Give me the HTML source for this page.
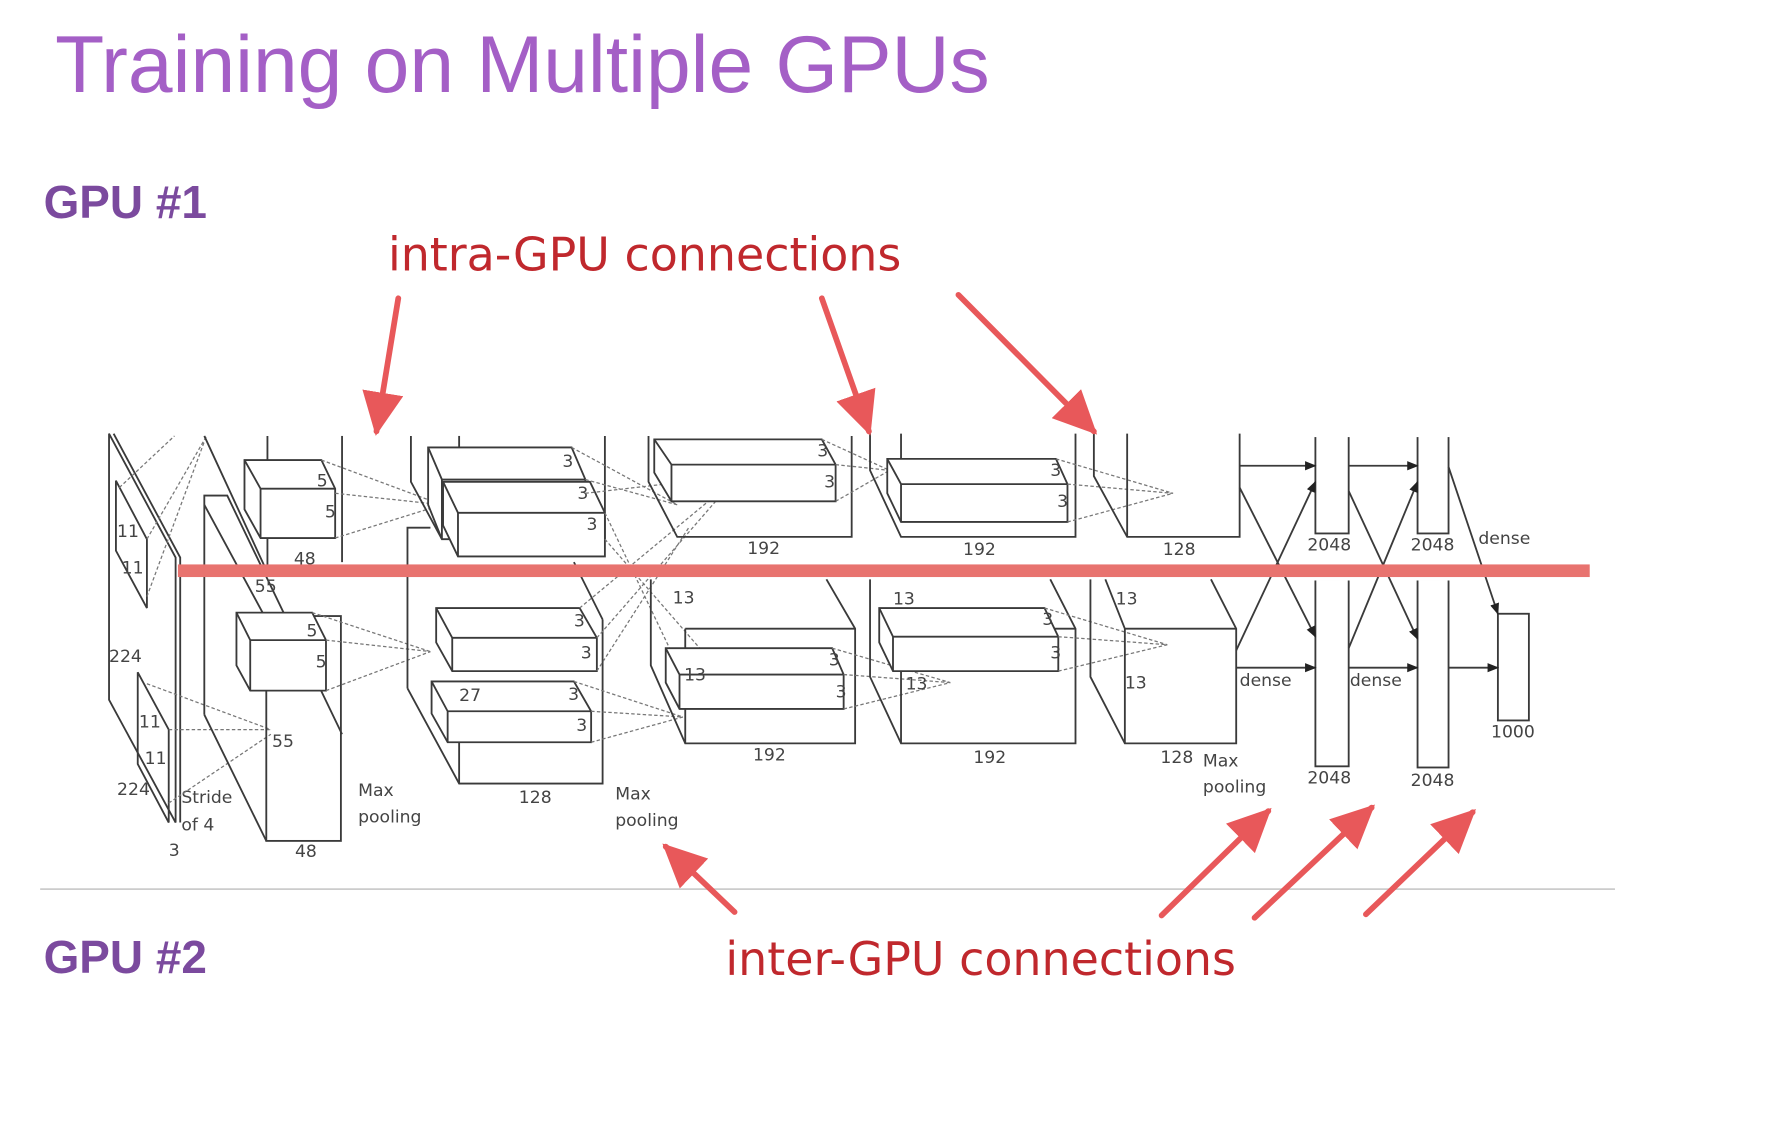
<!DOCTYPE html>
<html><head><meta charset="utf-8"><style>
html,body{margin:0;padding:0;background:#fff;width:1786px;height:1130px;overflow:hidden}
svg{display:block}
.l{stroke:#3a3a3a;stroke-width:1.6;fill:none}
.f{stroke:#3a3a3a;stroke-width:1.6;fill:#fff}
.d{stroke:#777;stroke-width:1.1;fill:none;stroke-dasharray:3 2}
.t{font-family:"DejaVu Sans","Liberation Sans",sans-serif;font-size:15px;fill:#444}
.r{stroke:#e8585a;stroke-width:5;fill:none;stroke-linecap:round}
</style></head><body>
<svg width="1786" height="1130" viewBox="0 0 1556 985" preserveAspectRatio="none" xmlns="http://www.w3.org/2000/svg">
<defs>
<marker id="ah" markerWidth="10" markerHeight="8" refX="9" refY="4" orient="auto" markerUnits="userSpaceOnUse"><path d="M0,0 L10,4 L0,8 z" fill="#222"/></marker>
<marker id="rh" markerWidth="40" markerHeight="36" refX="34" refY="18" orient="auto" markerUnits="userSpaceOnUse"><path d="M0,0 L38,18 L0,36 z" fill="#e8585a"/></marker>
</defs>
<text x="48" y="80" font-family="Liberation Sans,sans-serif" font-size="70" fill="#a45fc6">Training on Multiple GPUs</text>
<text x="38" y="190" font-family="Liberation Sans,sans-serif" font-weight="bold" font-size="40" fill="#7b4a9e">GPU #1</text>
<text x="38" y="848" font-family="Liberation Sans,sans-serif" font-weight="bold" font-size="40" fill="#7b4a9e">GPU #2</text>
<text x="338" y="236" font-family="DejaVu Sans,Liberation Sans,sans-serif" font-size="40" fill="#c0282d">intra-GPU connections</text>
<text x="632" y="850" font-family="DejaVu Sans,Liberation Sans,sans-serif" font-size="40" fill="#c0282d">inter-GPU connections</text>
<line x1="35" y1="775" x2="1407" y2="775" stroke="#ccc" stroke-width="1.5"/>

<!-- input -->
<polygon class="l" points="95,378 153,486 153,717 95,610"/>
<polyline class="l" points="99,378 157,486 157,717"/>
<polygon class="l" points="101,419 128,470 128,530 101,480"/>
<polygon class="l" points="120,586 147,636 147,717 120,666"/>
<text class="t" x="102" y="468">11</text><text class="t" x="106" y="500">11</text>
<text class="t" x="95" y="577">224</text><text class="t" x="121" y="634">11</text><text class="t" x="126" y="666">11</text>
<text class="t" x="102" y="693">224</text><text class="t" x="158" y="700">Stride</text><text class="t" x="158" y="724">of 4</text><text class="t" x="147" y="746">3</text>
<path class="d" d="M104,425 L152,380 M128,470 L180,380 M128,520 L178,385 M128,596 L236,636 M147,636 L236,636 M147,700 L236,640"/>

<!-- conv1 -->
<line class="l" x1="233" y1="380" x2="233" y2="500"/><line class="l" x1="298" y1="380" x2="298" y2="490"/>
<polyline class="l" points="178,380 232,497"/>
<polygon class="f" points="213,401 280,401 292,426 292,469 227,469 213,444"/>
<path class="l" d="M213,401 L227,426 L292,426 M227,426 L227,469"/>
<text class="t" x="276" y="424">5</text><text class="t" x="283" y="451">5</text><text class="t" x="256" y="492">48</text>
<polyline class="l" points="178,623 178,432 198,432 298,640"/>
<path class="l" d="M178,440 L232,540 M178,623 L232,733"/>
<rect class="l" x="232" y="537" width="65" height="196"/>
<polygon class="f" points="206,534 272,534 284,558 284,602 218,602 206,580"/>
<path class="l" d="M206,534 L218,558 L284,558 M218,558 L218,602"/>
<text class="t" x="267" y="555">5</text><text class="t" x="275" y="582">5</text>
<text class="t" x="222" y="516">55</text><text class="t" x="237" y="651">55</text><text class="t" x="257" y="747">48</text>
<text class="t" x="312" y="694" font-size="16">Max</text><text class="t" x="312" y="717" font-size="16">pooling</text>
<path class="d" d="M280,401 L385,440 M292,430 L385,440 M292,469 L385,440 M272,534 L375,568 M284,558 L375,568 M284,602 L375,568"/>

<!-- conv2 -->
<polyline class="l" points="358,380 358,420 385,470"/>
<line class="l" x1="400" y1="380" x2="400" y2="420"/>
<line class="l" x1="527" y1="380" x2="527" y2="470"/>
<polygon class="f" points="373,390 498,390 510,418 510,470 385,470 373,440"/>
<path class="l" d="M373,390 L385,418 L510,418 M385,418 L385,470"/>
<polygon class="f" points="386,420 514,420 527,447 527,485 399,485 386,458"/>
<path class="l" d="M386,420 L399,447 L527,447 M399,447 L399,485"/>
<text class="t" x="490" y="407">3</text><text class="t" x="503" y="435">3</text><text class="t" x="511" y="462">3</text>
<polyline class="l" points="355,600 355,460 375,460"/>
<path class="l" d="M355,600 L400,683 L525,683 L525,540 M500,490 L525,540"/>
<line class="l" x1="400" y1="600" x2="400" y2="683"/>
<polygon class="f" points="380,530 505,530 520,556 520,585 394,585 380,560"/>
<path class="l" d="M380,530 L394,556 L520,556 M394,556 L394,585"/>
<polygon class="f" points="376,594 500,594 515,620 515,647 390,647 376,622"/>
<path class="l" d="M376,594 L390,620 L515,620 M390,620 L390,647"/>
<text class="t" x="500" y="546">3</text><text class="t" x="506" y="574">3</text><text class="t" x="400" y="611">27</text>
<text class="t" x="495" y="610">3</text><text class="t" x="502" y="637">3</text><text class="t" x="452" y="700">128</text>
<text class="t" x="536" y="697" font-size="16">Max</text><text class="t" x="536" y="720" font-size="16">pooling</text>
<path class="d" d="M498,390 L590,440 M510,418 L590,440 M510,430 L640,415 M527,447 L600,600 M527,470 L640,600 M505,530 L640,418 M520,556 L640,418 M500,594 L595,625 M515,620 L595,625 M515,647 L595,625 M520,585 L600,460"/>

<!-- conv3 -->
<polyline class="l" points="565,380 565,420 590,468 742,468 742,380"/>
<polygon class="f" points="570,383 716,383 728,405 728,437 585,437 570,412"/>
<path class="l" d="M570,383 L585,405 L728,405 M585,405 L585,437"/>
<text class="t" x="712" y="398">3</text><text class="t" x="718" y="425">3</text><text class="t" x="651" y="483">192</text>
<polyline class="l" points="567,505 567,580 597,648 745,648 745,548 720,505"/>
<line class="l" x1="597" y1="548" x2="745" y2="548"/><line class="l" x1="597" y1="548" x2="597" y2="648"/>
<polygon class="f" points="580,565 725,565 735,588 735,618 592,618 580,595"/>
<path class="l" d="M580,565 L592,588 L735,588 M592,588 L592,618"/>
<text class="t" x="586" y="526">13</text><text class="t" x="596" y="593">13</text>
<text class="t" x="722" y="580">3</text><text class="t" x="728" y="608">3</text><text class="t" x="656" y="663">192</text>
<path class="d" d="M716,383 L775,410 M728,405 L775,410 M728,437 L775,410 M725,565 L828,595 M735,588 L828,595 M735,618 L828,595"/>

<!-- conv4 -->
<polyline class="l" points="758,378 758,410 785,468 937,468 937,378"/>
<line class="l" x1="785" y1="378" x2="785" y2="400"/>
<polygon class="f" points="773,400 920,400 930,422 930,455 785,455 773,430"/>
<path class="l" d="M773,400 L785,422 L930,422 M785,422 L785,455"/>
<text class="t" x="915" y="415">3</text><text class="t" x="921" y="442">3</text><text class="t" x="839" y="484">192</text>
<polyline class="l" points="758,505 758,590 785,648 937,648 937,548 915,505"/>
<line class="l" x1="785" y1="548" x2="937" y2="548"/><line class="l" x1="785" y1="548" x2="785" y2="648"/>
<polygon class="f" points="766,530 910,530 922,555 922,585 778,585 766,560"/>
<path class="l" d="M766,530 L778,555 L922,555 M778,555 L778,585"/>
<text class="t" x="778" y="527">13</text><text class="t" x="789" y="601">13</text>
<text class="t" x="908" y="545">3</text><text class="t" x="915" y="574">3</text><text class="t" x="848" y="665">192</text>
<path class="d" d="M920,400 L1022,430 M930,422 L1022,430 M930,455 L1022,430 M910,530 L1017,562 M922,555 L1017,562 M922,585 L1017,562"/>

<!-- conv5 -->
<polyline class="l" points="953,378 953,415 982,468 1080,468 1080,378"/>
<line class="l" x1="982" y1="378" x2="982" y2="468"/>
<text class="t" x="1013" y="484">128</text>
<polyline class="l" points="950,505 950,590 980,648 1077,648 1077,548 1055,505"/>
<path class="l" d="M980,548 L1077,548 M980,548 L980,648 M963,505 L980,548"/>
<text class="t" x="972" y="527">13</text><text class="t" x="980" y="600">13</text><text class="t" x="1011" y="665">128</text>
<text class="t" x="1048" y="668" font-size="16">Max</text><text class="t" x="1048" y="691" font-size="16">pooling</text>

<!-- dense -->
<rect class="l" x="1146" y="380" width="29" height="85" fill="none"/>
<rect class="l" x="1235" y="380" width="27" height="85" fill="none"/>
<rect class="l" x="1146" y="505" width="29" height="163" fill="none"/>
<rect class="l" x="1235" y="505" width="27" height="164" fill="none"/>
<rect x="1140" y="378" width="41" height="3" fill="#fff"/><rect x="1230" y="378" width="37" height="3" fill="#fff"/>
<rect x="1140" y="503" width="41" height="3" fill="#fff"/><rect x="1230" y="503" width="37" height="3" fill="#fff"/>
<rect class="l" x="1305" y="535" width="27" height="93"/>
<g class="l" marker-end="url(#ah)">
<line x1="1080" y1="406" x2="1146" y2="406"/><line x1="1175" y1="406" x2="1235" y2="406"/>
<line x1="1077" y1="582" x2="1146" y2="582"/><line x1="1175" y1="582" x2="1235" y2="582"/>
<line x1="1262" y1="582" x2="1305" y2="582"/>
<line x1="1080" y1="425" x2="1146" y2="555"/><line x1="1077" y1="567" x2="1146" y2="420"/>
<line x1="1175" y1="428" x2="1235" y2="557"/><line x1="1175" y1="565" x2="1235" y2="420"/>
<line x1="1262" y1="407" x2="1305" y2="535"/>
</g>
<text class="t" x="1139" y="480">2048</text><text class="t" x="1229" y="480">2048</text>
<text class="t" x="1139" y="683">2048</text><text class="t" x="1229" y="685">2048</text>
<text class="t" x="1288" y="474" font-size="17">dense</text><text class="t" x="1080" y="598" font-size="17">dense</text><text class="t" x="1176" y="598" font-size="17">dense</text>
<text class="t" x="1299" y="643">1000</text>

<!-- separator -->
<rect x="155" y="492" width="1230" height="11" fill="#e8736f"/>

<!-- red arrows -->
<g class="r" marker-end="url(#rh)">
<line x1="347" y1="260" x2="328" y2="376"/>
<line x1="716" y1="260" x2="757" y2="376"/>
<line x1="835" y1="257" x2="953" y2="376"/>
<line x1="640" y1="795" x2="580" y2="738"/>
<line x1="1012" y1="798" x2="1105" y2="707"/>
<line x1="1093" y1="800" x2="1195" y2="704"/>
<line x1="1190" y1="797" x2="1283" y2="708"/>
</g>
</svg>
</body></html>
